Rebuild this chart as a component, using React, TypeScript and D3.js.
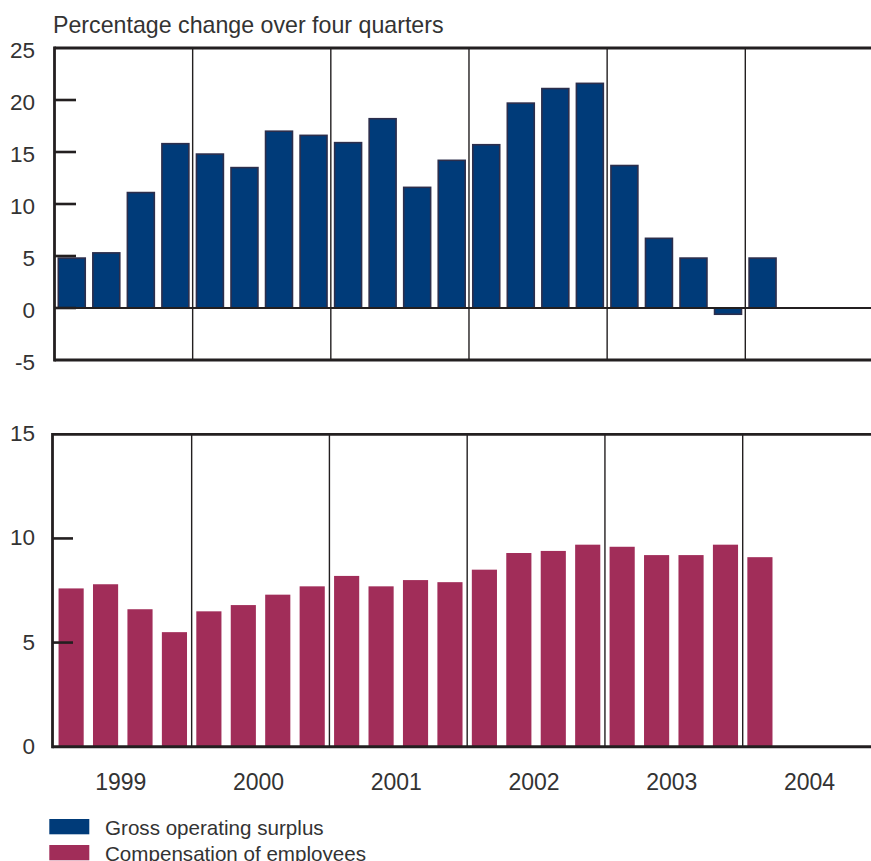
import React from 'react';
import * as d3 from 'd3';

const years = ['1999', '2000', '2001', '2002', '2003', '2004'];
const quarterNames = ['Q1', 'Q2', 'Q3', 'Q4'];
const quarters = years.flatMap((y) => quarterNames.map((q) => `${y} ${q}`));

const grossOperatingSurplus = [
  4.8, 5.3, 11.1, 15.8,
  14.8, 13.5, 17.0, 16.6,
  15.9, 18.2, 11.6, 14.2,
  15.7, 19.7, 21.1, 21.6,
  13.7, 6.7, 4.8, -0.6,
  4.8,
];
const compensationOfEmployees = [
  7.6, 7.8, 6.6, 5.5,
  6.5, 6.8, 7.3, 7.7,
  8.2, 7.7, 8.0, 7.9,
  8.5, 9.3, 9.4, 9.7,
  9.6, 9.2, 9.2, 9.7,
  9.1,
];
const topTicks = [25, 20, 15, 10, 5, 0, -5];
const bottomTicks = [15, 10, 5, 0];
const title = 'Percentage change over four quarters';
const legendItems = ['Gross operating surplus', 'Compensation of employees'];

const BLUE = '#003b79';
const BLUE_STROKE = '#2c2e4c';
const PINK = '#a12d59';
const INK = '#231f20';
const TEXT = '#333333';
const FONT = '"Liberation Sans", Arial, Helvetica, sans-serif';

export default function App() {
  const W = 871;
  const H = 861;

  // top panel
  const xTop = d3.scaleBand<string>().domain(quarters).range([54.5, 54.5 + 24 * 34.54]).paddingInner(0.22).paddingOuter(0.11);
  const yTop = d3.scaleLinear().domain([-5, 25]).range([360, 48]);
  // bottom panel
  const xBot = d3.scaleBand<string>().domain(quarters).range([53.9, 53.9 + 24 * 34.44]).paddingInner(0.27).paddingOuter(0.135);
  const yBot = d3.scaleLinear().domain([0, 15]).range([746.7, 434.3]);

  const yearStartTop = (i: number) => 54.5 + i * 4 * 34.54;
  const yearStartBot = (i: number) => 53.9 + i * 4 * 34.44;
  const rightEdge = W + 5;

  return (
    <svg
      width={W}
      height={H}
      style={{ position: 'absolute', left: 0, top: 0, background: '#fff' }}
      fontFamily={FONT}
    >
      <text x={53} y={33} fontSize={23.2} fill={TEXT}>{title}</text>

      {/* ===== Top panel ===== */}
      {years.slice(1).map((y, i) => (
        <line key={'vt' + y} x1={yearStartTop(i + 1)} x2={yearStartTop(i + 1)} y1={yTop(25)} y2={yTop(-5)} stroke={INK} strokeWidth={1.4} />
      ))}
      {grossOperatingSurplus.map((v, i) => {
        const x = xTop(quarters[i])!;
        const y0 = yTop(0);
        const y1 = yTop(v);
        return (
          <rect
            key={'g' + i}
            x={x}
            y={Math.min(y0, y1)}
            width={xTop.bandwidth()}
            height={Math.abs(y1 - y0)}
            fill={BLUE}
            stroke={BLUE_STROKE}
            strokeWidth={1.6}
          />
        );
      })}
      <line x1={54.5} x2={rightEdge} y1={yTop(0)} y2={yTop(0)} stroke={INK} strokeWidth={2.2} />
      <line x1={54.5} x2={rightEdge} y1={yTop(25)} y2={yTop(25)} stroke={INK} strokeWidth={2.8} />
      <line x1={54.5} x2={rightEdge} y1={yTop(-5)} y2={yTop(-5)} stroke={INK} strokeWidth={2.8} />
      <line x1={54.5} x2={54.5} y1={yTop(25) - 1.4} y2={yTop(-5) + 1.4} stroke={INK} strokeWidth={2.8} />
      {topTicks.filter((t) => t !== 25 && t !== -5).map((t) => (
        <line key={'tt' + t} x1={54.5} x2={76} y1={yTop(t)} y2={yTop(t)} stroke={INK} strokeWidth={2.6} />
      ))}
      {topTicks.map((t) => (
        <text key={'tl' + t} x={35} y={yTop(t) + 4} fontSize={22.5} fill={TEXT} textAnchor="end" dominantBaseline="middle">
          {t}
        </text>
      ))}

      {/* ===== Bottom panel ===== */}
      {years.slice(1).map((y, i) => (
        <line key={'vb' + y} x1={yearStartBot(i + 1)} x2={yearStartBot(i + 1)} y1={yBot(15)} y2={yBot(0)} stroke={INK} strokeWidth={1.4} />
      ))}
      {compensationOfEmployees.map((v, i) => (
        <rect
          key={'c' + i}
          x={xBot(quarters[i])!}
          y={yBot(v)}
          width={xBot.bandwidth()}
          height={yBot(0) - yBot(v)}
          fill={PINK}
        />
      ))}
      <line x1={52.5} x2={rightEdge} y1={yBot(15)} y2={yBot(15)} stroke={INK} strokeWidth={2.8} />
      <line x1={52.5} x2={rightEdge} y1={yBot(0)} y2={yBot(0)} stroke={INK} strokeWidth={3} />
      <line x1={52.5} x2={52.5} y1={yBot(15) - 1.4} y2={yBot(0) + 1.5} stroke={INK} strokeWidth={2.8} />
      {bottomTicks.filter((t) => t !== 15 && t !== 0).map((t) => (
        <line key={'bt' + t} x1={52.5} x2={73} y1={yBot(t)} y2={yBot(t)} stroke={INK} strokeWidth={2.6} />
      ))}
      {bottomTicks.map((t) => (
        <text key={'bl' + t} x={35} y={yBot(t) + 1} fontSize={22.5} fill={TEXT} textAnchor="end" dominantBaseline="middle">
          {t}
        </text>
      ))}

      {/* year labels */}
      {years.map((y, i) => (
        <text key={'yl' + y} x={yearStartBot(i) + 2 * 34.44 - 2} y={790} fontSize={23} fill={TEXT} textAnchor="middle">
          {y}
        </text>
      ))}

      {/* legend */}
      {legendItems.map((label, i) => (
        <g key={'lg' + i} transform={`translate(0, ${i * 26})`}>
          <rect x={49.3} y={819} width={40} height={15.3} fill={i === 0 ? BLUE : PINK} />
          <text x={105} y={835} fontSize={20.6} fill={TEXT}>{label}</text>
        </g>
      ))}
    </svg>
  );
}
